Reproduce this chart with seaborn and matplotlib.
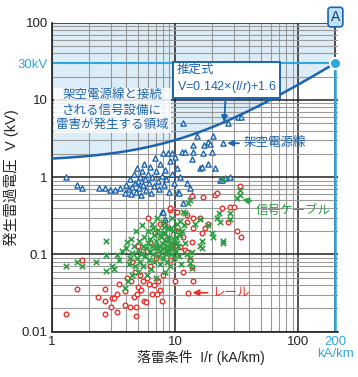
import numpy as np
import pandas as pd
import matplotlib
matplotlib.use("Agg")
import matplotlib.pyplot as plt
import seaborn as sns

# 架空電源線 (triangles)
tri_x = [1.3, 1.6, 1.75, 2.4, 2.7, 2.95, 3.25, 3.6, 3.9, 4.0, 4.2, 4.3, 4.4, 4.5, 4.6, 4.7, 4.8, 4.9,
         5.0, 5.1, 5.2, 5.3, 5.4, 5.5, 5.6, 5.7, 5.8, 6.0, 6.1, 6.3, 6.4, 6.5, 6.7, 6.9, 7.0, 7.2, 7.4,
         7.6, 7.8, 8.0, 8.1, 8.3, 8.5, 8.8, 8.9, 9.1, 9.4, 9.5, 9.7, 10.0, 10.3, 10.6, 11.0, 11.4, 11.6,
         12.1, 12.5, 13.2, 13.7, 13.9, 14.0, 15.0, 16.0, 16.6, 16.9, 17.2, 18.5, 18.5, 19.2, 20.0, 20.4,
         21.0, 23.0, 24.0, 24.5, 25.5, 27.0, 32.5, 34.0, 7.8, 8.3, 10.8, 11.6, 13.7, 8.0, 28.0]
tri_v = [1.0, 0.79, 0.72, 0.72, 0.72, 0.68, 0.68, 0.72, 0.62, 0.8, 0.7, 0.95, 0.6, 0.75, 1.1, 0.85, 0.65, 1.3,
         0.9, 0.72, 1.0, 0.58, 1.2, 0.8, 1.5, 0.95, 0.68, 1.1, 0.85, 1.35, 0.62, 1.0, 0.78, 1.76, 1.2, 0.9, 0.7,
         1.5, 1.05, 2.05, 0.8, 1.25, 0.95, 2.05, 0.65, 1.6, 2.05, 1.1, 0.85, 1.8, 1.3, 0.64, 1.0, 2.1, 5.0,
         2.1, 0.85, 0.72, 1.7, 2.6, 2.1, 3.4, 1.3, 1.35, 2.05, 2.6, 2.85, 1.5, 2.7, 2.1, 3.4,
         1.3, 0.91, 0.91, 2.75, 0.97, 5.0, 6.0, 6.0, 0.35, 0.29, 0.62, 0.46, 0.58, 0.35, 1.0]

# 信号ケーブル (crosses)
crs_x = [1.3, 1.6, 1.75, 2.3, 2.75, 2.75, 2.75, 3.07, 3.2, 3.4, 3.5, 3.7, 3.9, 4.0, 4.1, 4.15, 4.2, 4.3,
         4.4, 4.5, 4.5, 4.6, 4.7, 4.8, 4.9, 5.0, 5.0, 5.1, 5.2, 5.3, 5.4, 5.5, 5.5, 5.6, 5.7, 5.8, 5.9,
         6.0, 6.0, 6.1, 6.2, 6.3, 6.4, 6.5, 6.5, 6.6, 6.7, 6.8, 6.9, 7.0, 7.0, 7.1, 7.2, 7.3, 7.4, 7.5,
         7.6, 7.7, 7.8, 7.9, 8.0, 8.1, 8.2, 8.3, 8.4, 8.5, 8.6, 8.7, 8.8, 8.9, 9.0, 9.1, 9.2, 9.3, 9.4,
         9.5, 9.6, 9.8, 10.0, 10.1, 10.3, 10.5, 10.7, 11.0, 11.2, 11.6, 12.0, 12.0, 12.4, 12.8, 13.2, 13.2,
         13.2, 13.7, 13.7, 14.5, 16.0, 16.0, 16.6, 16.6, 18.5, 20.0, 20.3, 22.0, 22.5, 23.0, 24.5, 24.5,
         28.0, 28.0, 32.0, 33.6, 33.6, 24.5,
         7.3, 7.9, 8.4, 8.8, 9.3, 9.8, 10.2, 10.6, 11.0, 11.4, 11.8, 6.6, 7.0, 7.6, 8.1, 9.0, 9.7, 10.4]
crs_v = [0.07, 0.079, 0.07, 0.079, 0.15, 0.097, 0.062, 0.072, 0.065, 0.097, 0.085, 0.11, 0.037, 0.12, 0.143, 0.046, 0.075, 0.09,
         0.16, 0.055, 0.105, 0.13, 0.07, 0.2, 0.09, 0.115, 0.06, 0.15, 0.08, 0.1, 0.24, 0.13, 0.07, 0.17, 0.095, 0.12, 0.055,
         0.2, 0.14, 0.085, 0.11, 0.16, 0.065, 0.13, 0.25, 0.1, 0.18, 0.08, 0.12, 0.15, 0.05, 0.3, 0.095, 0.21, 0.13, 0.11,
         0.075, 0.17, 0.14, 0.09, 0.26, 0.12, 0.06, 0.19, 0.1, 0.15, 0.08, 0.13, 0.22, 0.11, 0.17, 0.07, 0.14, 0.1, 0.3,
         0.12, 0.2, 0.09, 0.15, 0.11, 0.25, 0.13, 0.095, 0.18, 0.075, 0.35, 0.34, 0.14, 0.1, 0.47, 0.5, 0.077,
         0.09, 0.066, 0.107, 0.25, 0.29, 0.13, 0.123, 0.15, 0.24, 0.19, 0.17, 0.3, 0.34, 0.26, 0.15, 0.14,
         0.34, 0.29, 0.53, 0.58, 0.68, 0.95,
         0.12, 0.19, 0.11, 0.16, 0.22, 0.13, 0.17, 0.21, 0.27, 0.2, 0.24, 0.22, 0.13, 0.18, 0.23, 0.12, 0.16, 0.14]

# レール (circles)
rail_x = [1.3, 1.6, 1.75, 2.35, 2.7, 2.7, 2.7, 3.0, 3.07, 3.2, 3.4, 3.4, 3.5, 3.9, 3.9, 4.1, 4.3, 4.4, 4.6,
          4.7, 4.8, 4.8, 4.9, 5.0, 5.2, 5.3, 5.5, 5.6, 5.8, 5.9, 6.1, 6.2, 6.5, 6.7, 7.1, 7.3, 7.6, 7.8, 8.0,
          4.5, 5.0, 5.5, 6.2, 6.9, 7.2, 7.6, 8.3, 8.6, 9.1, 9.1, 9.1, 9.5, 10.0, 10.4, 11.0, 11.6, 12.0,
          12.5, 12.5, 12.5, 12.8, 13.2, 13.6, 13.7, 13.7, 14.0, 14.0, 14.0, 16.0, 16.6, 16.9, 17.5, 18.5,
          21.0, 22.0, 24.0, 27.0, 28.0, 30.0, 31.8, 33.6, 34.0, 6.0, 7.0, 8.0, 10.5, 11.5]
rail_v = [0.017, 0.036, 0.084, 0.028, 0.036, 0.025, 0.017, 0.021, 0.027, 0.027, 0.018, 0.031, 0.042, 0.034, 0.022, 0.05, 0.021, 0.045, 0.028,
          0.06, 0.021, 0.016, 0.031, 0.038, 0.055, 0.035, 0.045, 0.025, 0.024, 0.05, 0.042, 0.07, 0.031, 0.04, 0.031, 0.045, 0.035, 0.025, 0.055,
          0.08, 0.13, 0.11, 0.143, 0.19, 0.1, 0.25, 0.24, 0.16, 0.38, 0.084, 0.40, 0.12, 0.046, 0.35, 0.124, 0.166, 0.113,
          0.32, 0.26, 0.107, 0.032, 0.084, 0.57, 0.143, 0.068, 0.30, 0.22, 0.046, 0.30, 0.19, 0.55, 0.22, 0.25,
          0.58, 0.62, 0.40, 0.26, 0.41, 0.41, 0.2, 0.76, 0.17, 0.3, 0.09, 0.13, 0.2, 0.06]

# 推定式 V = 0.142*(I/r) + 1.6
coef_a = 0.142
coef_b = 1.6
x_end = 200
v_lim = 30

DARK = "#1d64b0"
LIGHT = "#2fa6df"
SHADE = "#dcedf8"
GREEN = "#2ea043"
RED = "#e5322d"

sns.set_style("white")
plt.rcParams["font.family"] = ["Liberation Sans", "Noto Sans CJK JP", "DejaVu Sans"]
plt.rcParams["mathtext.fontset"] = "custom"
plt.rcParams["mathtext.it"] = "Liberation Sans:italic"
plt.rcParams["mathtext.rm"] = "Liberation Sans"

fig = plt.figure(figsize=(3.58, 3.77), dpi=100)
ax = fig.add_axes([0.145, 0.12, 0.80, 0.82])
ax.set_xscale("log")
ax.set_yscale("log")
ax.set_xlim(1, 211)
ax.set_ylim(0.01, 100)

xs = np.logspace(0, np.log10(x_end), 200)
curve = pd.DataFrame({"x": xs, "v": coef_a * xs + coef_b})
ax.fill_between(curve["x"], curve["v"], 100, color=SHADE, zorder=0, lw=0)

ax.grid(True, which="minor", color="#9a9a9a", lw=0.8, zorder=0.5)
ax.grid(True, which="major", color="#222222", lw=1.1, zorder=0.6)
ax.set_axisbelow(True)

sns.lineplot(data=curve, x="x", y="v", color=DARK, lw=1.8, ax=ax, zorder=3)
ax.plot([1, x_end], [v_lim, v_lim], color=LIGHT, lw=1.5, zorder=2)
ax.plot([x_end, x_end], [0.01, v_lim], color=LIGHT, lw=1.8, zorder=2)

sns.scatterplot(x=tri_x, y=tri_v, marker="^", s=14, facecolor="white", edgecolor=DARK, linewidth=1.0, ax=ax, zorder=4)
sns.scatterplot(x=rail_x, y=rail_v, marker="o", s=11, facecolor="white", edgecolor=RED, linewidth=1.0, ax=ax, zorder=4)
sns.scatterplot(x=crs_x, y=crs_v, marker="x", s=15, color=GREEN, linewidth=1.2, ax=ax, zorder=5)

ax.plot([x_end], [v_lim], "o", ms=8, mfc=LIGHT, mec="white", mew=1.5, zorder=6, clip_on=False)
ax.text(x_end, 118, "A", ha="center", va="center", fontsize=10, color="#1a3d6b", zorder=7,
        bbox=dict(boxstyle="round,pad=0.2", fc="#bfe3f6", ec=DARK, lw=1.2))

ax.set_xticks([1, 10, 100, 200])
ax.set_xticklabels(["1", "10", "100", "200\nkA/km"])
ax.set_yticks([0.01, 0.1, 1, 10, 30, 100])
ax.set_yticklabels(["0.01", "0.1", "1", "10", "30kV", "100"])
ax.tick_params(which="both", length=0, labelsize=9.5, colors="#222222", pad=3)
ax.minorticks_on()
ax.tick_params(which="minor", length=0)
ax.xaxis.set_minor_formatter(plt.NullFormatter())
ax.yaxis.set_minor_formatter(plt.NullFormatter())
ax.get_xticklabels()[-1].set_color(LIGHT)
ax.get_yticklabels()[4].set_color(LIGHT)
ax.get_xticklabels()[-1].set_linespacing(1.0)

ax.set_xlabel("落雷条件  I/r (kA/km)", fontsize=10)
ax.xaxis.set_label_coords(0.52, -0.06)
ax.set_ylabel("発生雷過電圧  V (kV)", fontsize=10.5)
ax.yaxis.set_label_coords(-0.115, 0.5)
for s in ["top", "right"]:
    ax.spines[s].set_visible(False)
for s in ["left", "bottom"]:
    ax.spines[s].set_color("#222222")
    ax.spines[s].set_linewidth(1.2)

ax.text(3.1, 7.3, "架空電源線と接続\nされる信号設備に\n雷害が発生する領域", ha="center", va="center",
        fontsize=9, color=DARK, linespacing=1.3, zorder=7,
        bbox=dict(boxstyle="square,pad=0.15", fc="white", ec="none", alpha=0.85))

ax.annotate("推定式\nV=0.142×($\\mathit{I}$/$\\mathit{r}$)+1.6", xy=(25, 5.15), xytext=(10.3, 18.5),
            ha="left", va="center", fontsize=9, color=DARK, linespacing=1.25, zorder=8,
            bbox=dict(boxstyle="square,pad=0.3", fc="white", ec=DARK, lw=1.4),
            arrowprops=dict(arrowstyle="-|>", color=DARK, lw=1.3, shrinkA=0, shrinkB=0))

ax.annotate("架空電源線", xy=(24.5, 2.75), xytext=(36, 2.75), ha="left", va="center",
            fontsize=9, color=DARK, zorder=8,
            arrowprops=dict(arrowstyle="-|>", color=DARK, lw=1.3, shrinkA=1, shrinkB=3))
ax.annotate("信号ケーブル", xy=(32.5, 0.53), xytext=(45, 0.37), ha="left", va="center",
            fontsize=9, color=GREEN, zorder=8,
            arrowprops=dict(arrowstyle="-|>", color=GREEN, lw=1.3, shrinkA=1, shrinkB=3))
ax.annotate("レール", xy=(12.8, 0.032), xytext=(20, 0.032), ha="left", va="center",
            fontsize=9, color=RED, zorder=8,
            arrowprops=dict(arrowstyle="-|>", color=RED, lw=1.3, shrinkA=1, shrinkB=3))

fig.savefig("out.png", dpi=100)
